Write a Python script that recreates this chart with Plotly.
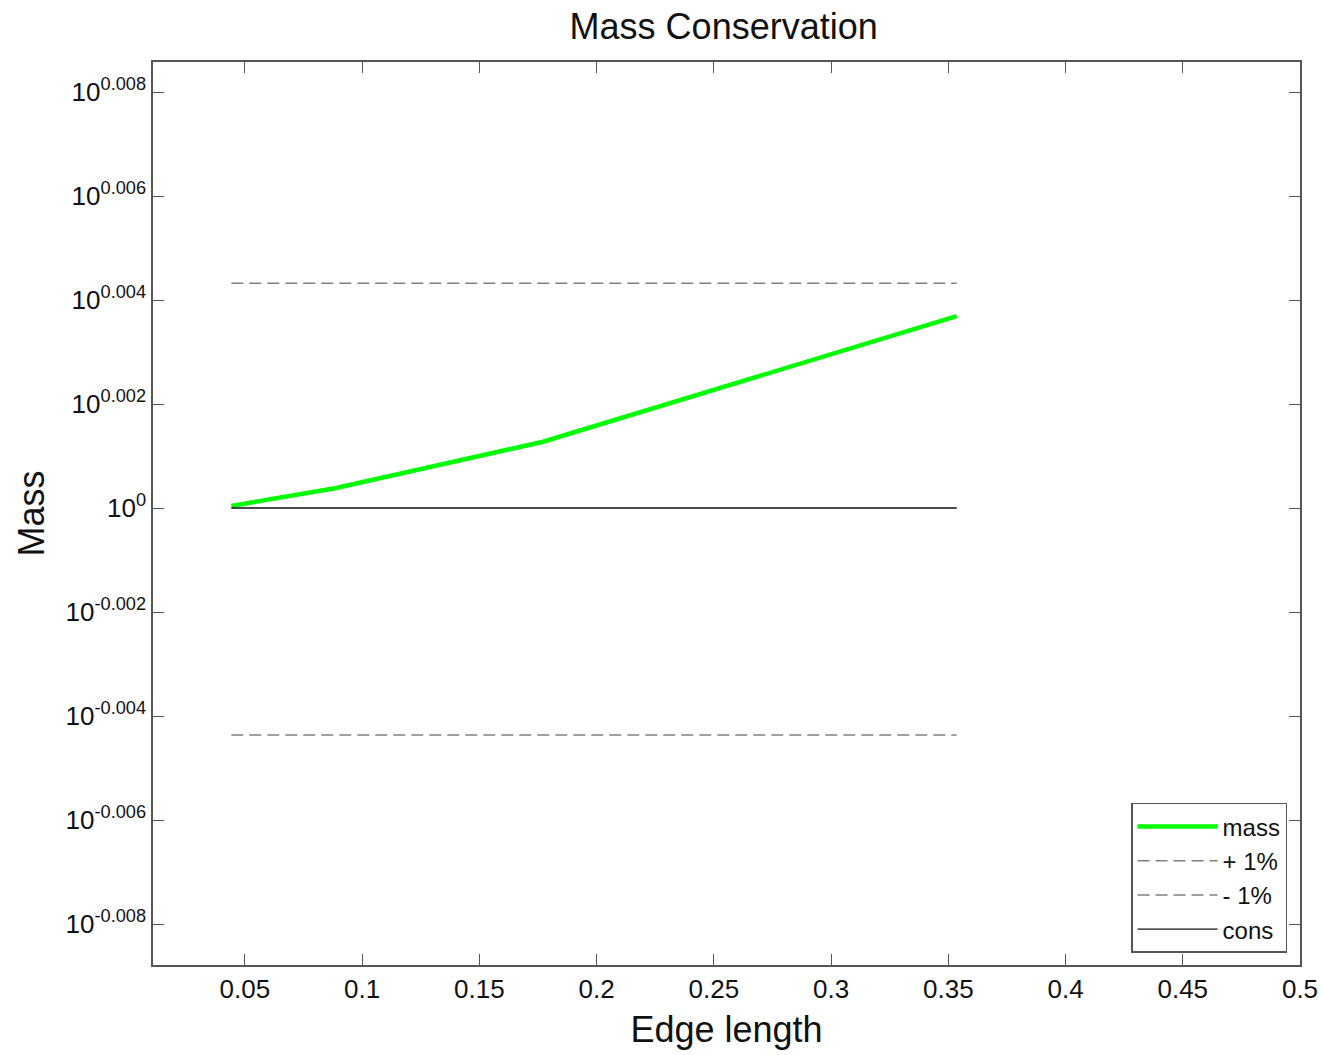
import numpy as np
import plotly.graph_objects as go

# Mesh edge lengths and the normalised total mass measured on each mesh
edge_length = [0.0442, 0.0884, 0.1768, 0.3536]
mass_log10 = [0.00004, 0.00038, 0.00127, 0.00369]

# Tolerance band (+/- 1 %) and the conserved reference value
upper_band = 1.01
lower_band = 0.99
conserved = 1.0

y_tick_exps = [-0.008, -0.006, -0.004, -0.002, 0.0, 0.002, 0.004, 0.006, 0.008]
y_tick_text = ["10<sup>-0.008</sup>", "10<sup>-0.006</sup>", "10<sup>-0.004</sup>",
               "10<sup>-0.002</sup>", "10<sup>0</sup>", "10<sup>0.002</sup>",
               "10<sup>0.004</sup>", "10<sup>0.006</sup>", "10<sup>0.008</sup>"]
x_tick_vals = [0.05, 0.1, 0.15, 0.2, 0.25, 0.3, 0.35, 0.4, 0.45, 0.5]
x_tick_text = ["0.05", "0.1", "0.15", "0.2", "0.25", "0.3", "0.35", "0.4", "0.45", "0.5"]

mass = [10 ** v for v in mass_log10]
x_span = [edge_length[0], edge_length[-1]]

fig = go.Figure()
fig.add_trace(go.Scatter(x=edge_length, y=mass, mode="lines", name="mass",
                         line=dict(color="#00ff00", width=4.5)))
fig.add_trace(go.Scatter(x=x_span, y=[upper_band] * 2, mode="lines", name="+ 1%",
                         line=dict(color="#808080", width=1.6, dash="12px,6px")))
fig.add_trace(go.Scatter(x=x_span, y=[lower_band] * 2, mode="lines", name="- 1%",
                         line=dict(color="#808080", width=1.6, dash="12px,6px")))
fig.add_trace(go.Scatter(x=x_span, y=[conserved] * 2, mode="lines", name="cons",
                         line=dict(color="#111111", width=1.3)))

font_family = "Liberation Sans, Arial, sans-serif"
axis_common = dict(showgrid=False, zeroline=False, showline=True, linecolor="#555555",
                   linewidth=1.5, mirror="ticks", ticks="inside", ticklen=11,
                   tickcolor="#555555", tickwidth=1.2, automargin=False,
                   tickfont=dict(family=font_family, size=26, color="#111111"))

fig.update_layout(
    width=1323, height=1055,
    margin=dict(l=153, r=23, t=62, b=90),
    paper_bgcolor="white", plot_bgcolor="white",
    title=dict(text="Mass Conservation", x=0.547, xanchor="center", y=0.975, yanchor="middle",
               font=dict(family=font_family, size=36, color="#111111")),
    xaxis=dict(range=[0.0108, 0.5], tickmode="array", tickvals=x_tick_vals,
               ticktext=x_tick_text,
               title=dict(text="Edge length", standoff=14,
                          font=dict(family=font_family, size=36, color="#111111")),
               **axis_common),
    yaxis=dict(type="log", range=[-0.008788, 0.008577], tickmode="array",
               tickvals=[10 ** v for v in y_tick_exps], ticktext=y_tick_text,
               title=dict(text="Mass", standoff=10,
                          font=dict(family=font_family, size=36, color="#111111")),
               **axis_common),
    legend=dict(x=0.9887, y=0.0133, xanchor="right", yanchor="bottom",
                bgcolor="white", bordercolor="#555555", borderwidth=1.5,
                font=dict(family=font_family, size=24, color="#111111"),
                tracegroupgap=0, itemwidth=80),
    showlegend=True,
)

fig.write_html("out.html")
